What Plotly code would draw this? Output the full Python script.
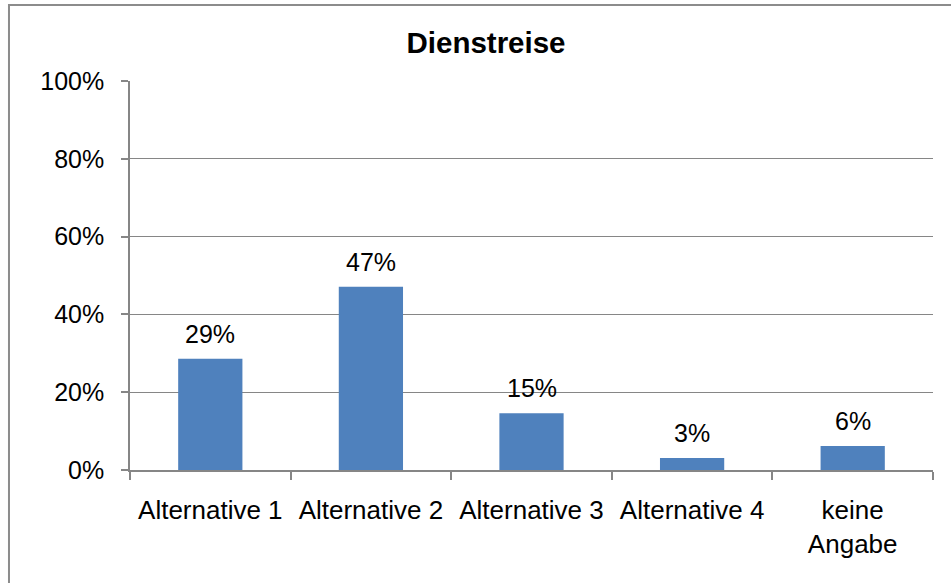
import plotly.graph_objects as go

# Survey answers for business travel ("Dienstreise")
categories = ["Alternative 1", "Alternative 2", "Alternative 3", "Alternative 4", "keine<br>Angabe"]
shares = [28.6, 47.1, 14.6, 3.1, 6.2]
y_ticks = [0, 20, 40, 60, 80, 100]

BAR_BLUE = "#4F81BD"
GRID_GREY = "#868686"
FONT = "Liberation Sans, Arial, sans-serif"

fig = go.Figure(
    go.Bar(
        x=categories,
        y=shares,
        marker=dict(color=BAR_BLUE, line=dict(width=0)),
        width=0.4,
        hoverinfo="skip",
    )
)

# value labels above each bar
for cat, val in zip(categories, shares):
    fig.add_annotation(
        x=cat, y=val, text=f"{round(val)}%",
        showarrow=False, yanchor="bottom", yshift=9,
        font=dict(family=FONT, size=25, color="black"),
    )

fig.update_layout(
    width=951,
    height=583,
    margin=dict(l=130, r=18, t=81, b=113),
    paper_bgcolor="white",
    plot_bgcolor="white",
    showlegend=False,
    font=dict(family=FONT, size=25, color="black"),
    title=dict(
        text="<b>Dienstreise</b>",
        x=486 / 951, xref="container", xanchor="center",
        y=1 - 43 / 583, yref="container", yanchor="middle",
        font=dict(family=FONT, size=29.5, color="black"),
    ),
    # outer chart frame, running past the right and bottom edges
    shapes=[
        dict(
            type="rect", xref="paper", yref="paper",
            x0=-0.1507, x1=1.2, y0=-0.6, y1=1.1954,
            line=dict(color="#8C8C8C", width=2),
            fillcolor="rgba(0,0,0,0)", layer="below",
        )
    ],
)

fig.update_yaxes(
    range=[0, 100],
    tickvals=y_ticks,
    ticktext=[f"{t}%" for t in y_ticks],
    showgrid=True, gridcolor=GRID_GREY, gridwidth=1,
    showline=True, linecolor=GRID_GREY, linewidth=1.5,
    ticks="outside", ticklen=7, tickcolor=GRID_GREY, tickwidth=1.5,
    ticklabelstandoff=12,
    zeroline=False,
    tickfont=dict(family=FONT, size=25, color="black"),
    fixedrange=True,
)

fig.update_xaxes(
    type="category",
    showline=True, linecolor=GRID_GREY, linewidth=1.5,
    ticks="outside", tickson="boundaries", ticklen=8,
    tickcolor=GRID_GREY, tickwidth=1.5,
    ticklabelstandoff=16,
    showgrid=False,
    tickfont=dict(family=FONT, size=26, color="black"),
    fixedrange=True,
)

fig.write_html("out.html")
